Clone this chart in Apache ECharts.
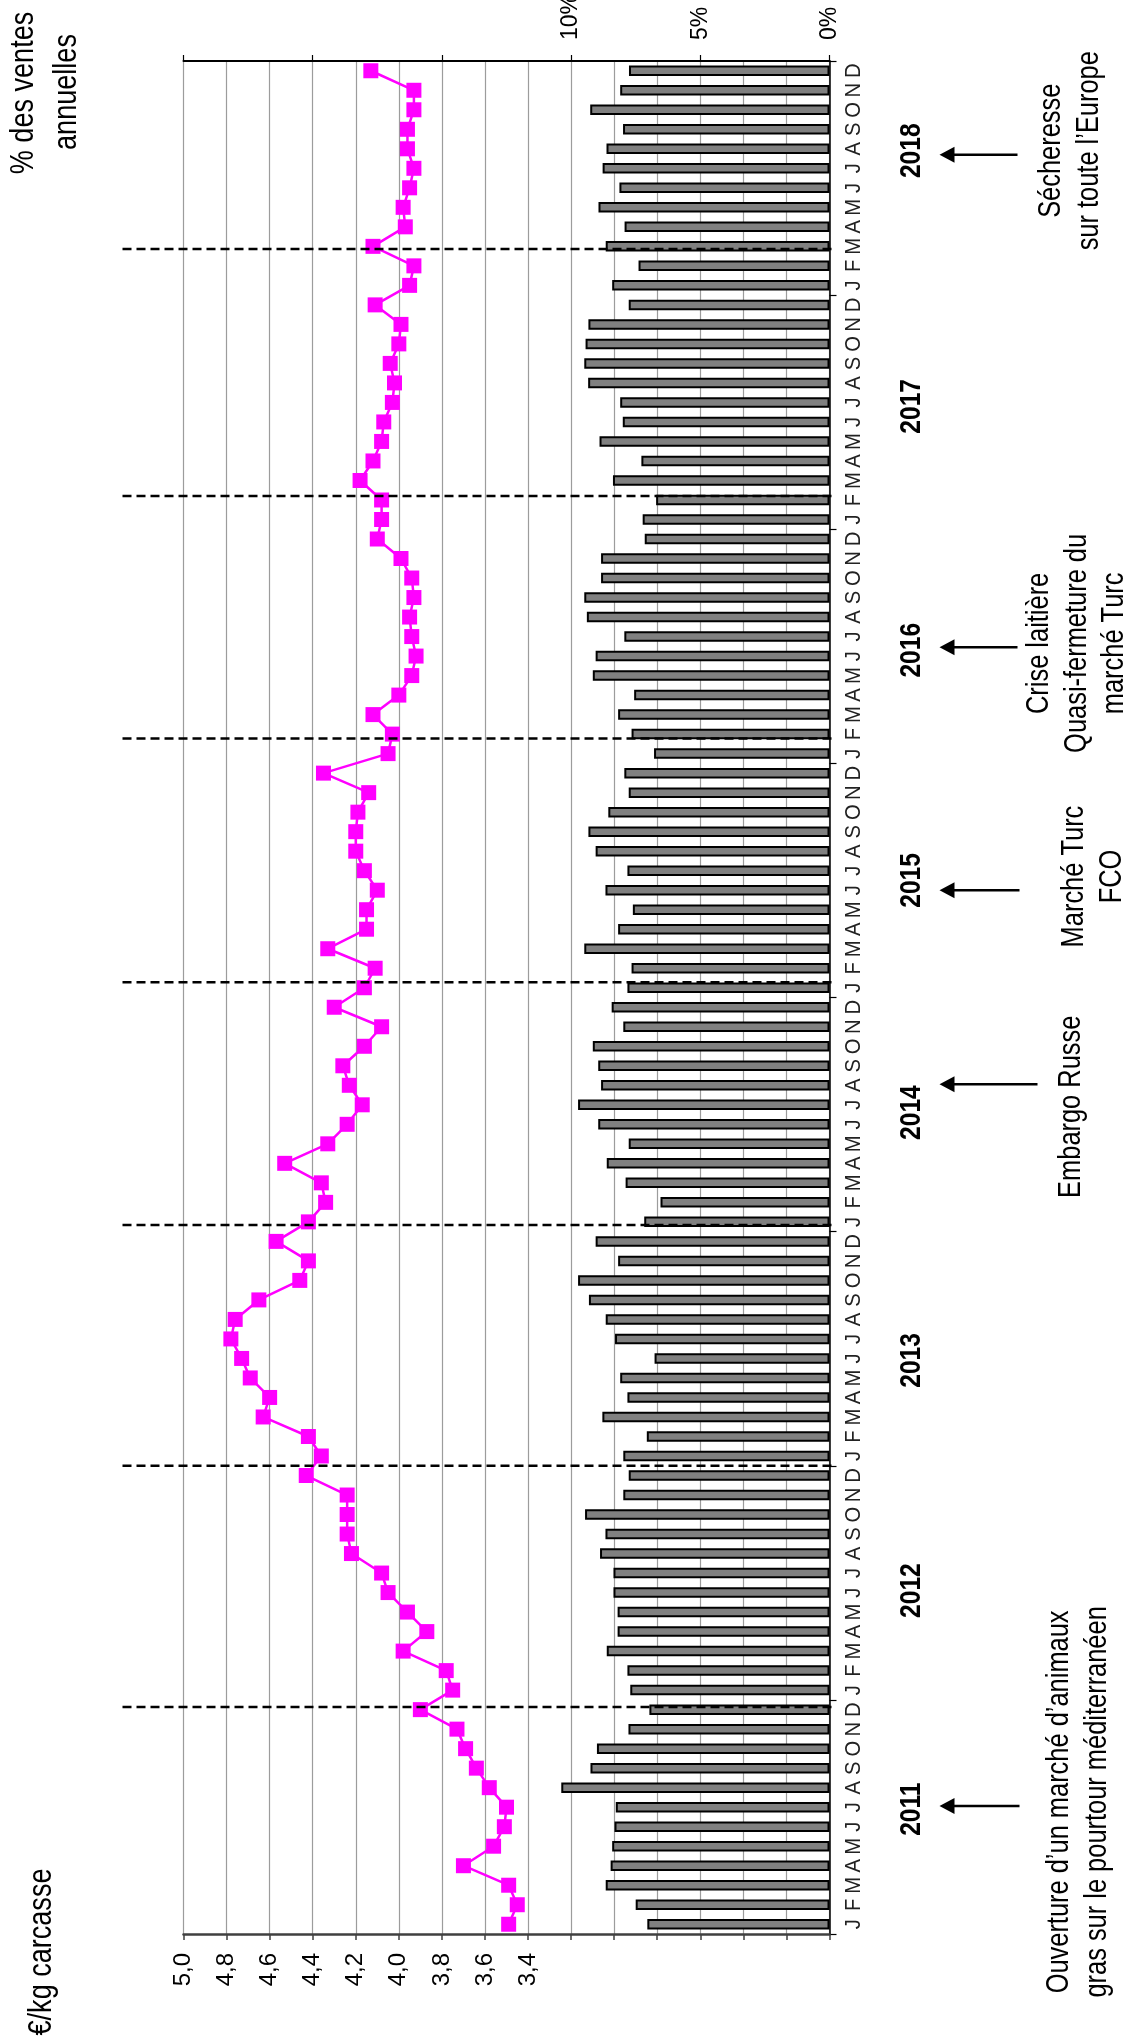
<!DOCTYPE html>
<html>
<head>
<meta charset="utf-8">
<script src="https://cdn.jsdelivr.net/npm/echarts@6/dist/echarts.min.js"></script>
<style>
html,body{margin:0;padding:0;background:#fff;}
#chart{width:1139px;height:2044px;}
</style>
</head>
<body>
<div id="chart"></div>
<script>
// ---------- DATA ----------
const monthLetters = ['J','F','M','A','M','J','J','A','S','O','N','D'];
const years = ['2011','2012','2013','2014','2015','2016','2017','2018'];

// % des ventes annuelles (bars)
const sales2011 = [7.05, 7.50, 8.66, 8.47, 8.41, 8.32, 8.27, 10.38, 9.25, 9.00, 7.78, 6.97];
const sales2012 = [7.71, 7.82, 8.62, 8.20, 8.20, 8.36, 8.36, 8.88, 8.67, 9.46, 7.98, 7.77];
const sales2013 = [7.98, 7.07, 8.79, 7.82, 8.10, 6.77, 8.30, 8.66, 9.31, 9.73, 8.18, 9.05];
const sales2014 = [7.17, 6.54, 7.89, 8.62, 7.77, 8.95, 9.73, 8.84, 8.95, 9.16, 7.98, 8.43];
const sales2015 = [7.82, 7.66, 9.49, 8.18, 7.61, 8.67, 7.82, 9.05, 9.33, 8.56, 7.77, 7.94];
const sales2016 = [6.79, 7.66, 8.18, 7.56, 9.16, 9.05, 7.94, 9.39, 9.49, 8.84, 8.84, 7.15];
const sales2017 = [7.23, 6.71, 8.38, 7.28, 8.90, 8.00, 8.10, 9.34, 9.49, 9.44, 9.33, 7.77];
const sales2018 = [8.41, 7.39, 8.66, 7.93, 8.94, 8.13, 8.78, 8.63, 7.99, 9.26, 8.10, 7.76];

// €/kg carcasse (line)
const price2011 = [3.49, 3.45, 3.49, 3.70, 3.56, 3.51, 3.50, 3.58, 3.64, 3.69, 3.73, 3.90];
const price2012 = [3.75, 3.78, 3.98, 3.87, 3.96, 4.05, 4.08, 4.22, 4.24, 4.24, 4.24, 4.43];
const price2013 = [4.36, 4.42, 4.63, 4.60, 4.69, 4.73, 4.78, 4.76, 4.65, 4.46, 4.42, 4.57];
const price2014 = [4.42, 4.34, 4.36, 4.53, 4.33, 4.24, 4.17, 4.23, 4.26, 4.16, 4.08, 4.30];
const price2015 = [4.16, 4.11, 4.33, 4.15, 4.15, 4.10, 4.16, 4.20, 4.20, 4.19, 4.14, 4.35];
const price2016 = [4.05, 4.03, 4.12, 4.00, 3.94, 3.92, 3.94, 3.95, 3.93, 3.94, 3.99, 4.10];
const price2017 = [4.08, 4.08, 4.18, 4.12, 4.08, 4.07, 4.03, 4.02, 4.04, 4.00, 3.99, 4.11];
const price2018 = [3.95, 3.93, 4.12, 3.97, 3.98, 3.95, 3.93, 3.96, 3.96, 3.93, 3.93, 4.13];

// axes
const priceMin = 2.0, priceMax = 5.0, priceStep = 0.2;
const priceTickLabels = [3.4, 3.6, 3.8, 4.0, 4.2, 4.4, 4.6, 4.8, 5.0];
const pctMin = 0, pctMax = 25, pctStep = 5;
const pctTickLabels = [0, 5, 10];

// dashed separators (position in months from Jan 2011)
const dashedPos = [11.63, 24.0, 36.34, 48.78, 61.28, 73.71, 86.36];
// year label position inside each year (months from the year's start)
const yearLabelOffset = [6.4, 5.6, 5.4, 6.1, 6.0, 5.8, 6.3, 7.4];

// annotations (position in months from Jan 2011)
const noteArrowPos = [6.56, 43.55, 53.5, 65.95, 91.2];
const noteArrowLen = [80, 98, 80, 78, 78];
const noteTextPos  = [6.77, 42.4, 54.2, 66.15, 91.4];
const noteFirstBaseline = [1070, 1082, 1085, 1050, 1062];
const noteLines = [
  ['Ouverture d\u2019un marché d\u2019animaux', 'gras sur le pourtour méditerranéen'],
  ['Embargo Russe'],
  ['Marché Turc', 'FCO'],
  ['Crise laitière', 'Quasi-fermeture du', 'marché Turc'],
  ['Sécheresse', 'sur toute l\u2019Europe']
];

// ---------- FONTS ----------
function fontAvailable(name) {
  const ctx = document.createElement('canvas').getContext('2d');
  const s = 'abcdefghijklmnopqrstuvwxyz0123456789WMQ';
  return ['monospace', 'serif'].some(fb => {
    ctx.font = '40px ' + fb; const a = ctx.measureText(s).width;
    ctx.font = "40px '" + name + "', " + fb; const b = ctx.measureText(s).width;
    return Math.abs(a - b) > 0.5;
  });
}
const narrow = ['Liberation Sans Narrow', 'Arial Narrow'].find(fontAvailable);
const NF = narrow ? "'" + narrow + "'" : "'Liberation Sans', Arial, sans-serif";
const SX = narrow ? 1 : 0.82;
const RF = "'Liberation Sans', Arial, sans-serif";

// ---------- BUILD ----------
const allSales = [].concat(sales2011, sales2012, sales2013, sales2014, sales2015, sales2016, sales2017, sales2018);
const allPrice = [].concat(price2011, price2012, price2013, price2014, price2015, price2016, price2017, price2018);
const categories = [];
years.forEach(y => monthLetters.forEach((m, i) => categories.push(y + '-' + (i + 1))));
const nMonths = categories.length;

const ROT = Math.PI / 2;
const chart = echarts.init(document.getElementById('chart'), null, {renderer: 'canvas'});

function txt(x, y, text, size, align, vAlign, weight, color, family, sx) {
  return {type: 'text', x: x, y: y, rotation: ROT, scaleX: sx == null ? SX : sx,
          style: {text: text, fill: color || '#000', fontSize: size, fontWeight: weight || 'normal', fontFamily: family || NF,
                  align: align, verticalAlign: vAlign}};
}
function overlay(name, xIdx, data, render) {
  return {name: name, type: 'custom', xAxisIndex: xIdx, yAxisIndex: 1, clip: false, silent: true, z: 10,
          data: data, encode: {x: 0, y: 1}, renderItem: render};
}

const option = {
  animation: false,
  backgroundColor: '#ffffff',
  grid: {left: 183.5, right: 309.5, top: 61, bottom: 110, containLabel: false},
  xAxis: [
    { // price axis (bottom of picture)
      type: 'value', position: 'bottom', min: priceMin, max: priceMax, interval: priceStep, inverse: true,
      axisLine: {show: true, onZero: false, lineStyle: {color: '#404040', width: 2.5}},
      axisTick: {show: true, length: 6, lineStyle: {color: '#404040', width: 1.5}},
      splitLine: {show: true, lineStyle: {color: '#9c9c9c', width: 1.2}},
      axisLabel: {show: false}
    },
    { // percent axis (top of picture)
      type: 'value', position: 'top', min: pctMin, max: pctMax, interval: pctStep, inverse: true,
      axisLine: {show: true, onZero: false, lineStyle: {color: '#000', width: 2}},
      axisTick: {show: true, length: 6, lineStyle: {color: '#000', width: 1.2}},
      splitLine: {show: false},
      axisLabel: {show: false}
    }
  ],
  yAxis: [
    {
      type: 'category', data: categories, position: 'right', boundaryGap: true,
      axisLine: {show: true, onZero: false, lineStyle: {color: '#000', width: 1.5}},
      axisTick: {show: true, length: 7, interval: (i) => i % 12 === 0, lineStyle: {color: '#000', width: 1.2}},
      splitLine: {show: false},
      axisLabel: {show: false, interval: 0}
    },
    {type: 'value', min: 0, max: nMonths, show: false}
  ],
  series: [
    {
      name: '% des ventes annuelles', type: 'bar', xAxisIndex: 1, yAxisIndex: 0,
      data: allSales, barWidth: 10.5, z: 2,
      itemStyle: {color: '#808080', borderColor: '#000', borderWidth: 2}
    },
    {
      name: '€/kg carcasse', type: 'line', xAxisIndex: 0, yAxisIndex: 0,
      data: allPrice, z: 3,
      symbol: 'rect', symbolSize: 15, showSymbol: true, showAllSymbol: true,
      itemStyle: {color: '#ff00ff'},
      lineStyle: {color: '#ff00ff', width: 2.5}
    },
    // month letters along the time axis
    overlay('months', 0, categories.map((c, i) => [priceMin, i + 0.5]), (params, api) => {
      const pt = api.coord([priceMin, api.value(1)]);
      return txt(pt[0] + 24, pt[1], monthLetters[params.dataIndex % 12], 22, 'center', 'middle', 'normal', '#222', RF, 0.92);
    }),
    // price tick labels
    overlay('priceLabels', 0, priceTickLabels.map(v => [v, 0]), (params, api) => {
      const pt = api.coord([api.value(0), 0]);
      const v = priceTickLabels[params.dataIndex];
      return txt(pt[0], pt[1] + 19, v.toFixed(1).replace('.', ','), 24, 'right', 'middle', 'normal', '#000', RF, 1);
    }),
    // percent tick labels
    {
      name: 'pctLabels', type: 'custom', xAxisIndex: 1, yAxisIndex: 1, clip: false, silent: true, z: 10,
      data: pctTickLabels.map(v => [v, nMonths]), encode: {x: 0, y: 1},
      renderItem: (params, api) => {
        const pt = api.coord([api.value(0), nMonths]);
        return txt(pt[0], pt[1] - 21, pctTickLabels[params.dataIndex] + '%', 23, 'left', 'middle', 'normal', '#000', RF, 1);
      }
    },
    // dashed separators
    overlay('separators', 0, dashedPos.map(p => [priceMin, p]), (params, api) => {
      const pt = api.coord([priceMin, api.value(1)]);
      const left = api.coord([priceMax, api.value(1)])[0];
      return {type: 'line', shape: {x1: left - 61, y1: pt[1], x2: pt[0] + 2, y2: pt[1]},
              style: {stroke: '#000', lineWidth: 2.5, lineDash: [9, 5], fill: null}};
    }),
    // year labels
    overlay('years', 0, years.map((y, i) => [priceMin, i * 12 + yearLabelOffset[i]]), (params, api) => {
      const pt = api.coord([priceMin, api.value(1)]);
      return txt(pt[0] + 82, pt[1], years[params.dataIndex], 30, 'center', 'middle', 'bold');
    }),
    // arrows
    overlay('arrows', 0, noteArrowPos.map(p => [priceMin, p]), (params, api) => {
      const pt = api.coord([priceMin, api.value(1)]);
      const tip = pt[0] + 110, y = pt[1], len = noteArrowLen[params.dataIndex];
      return {type: 'group', children: [
        {type: 'line', shape: {x1: tip + 10, y1: y, x2: tip + len, y2: y}, style: {stroke: '#000', lineWidth: 2.5}},
        {type: 'polygon', shape: {points: [[tip, y], [tip + 15, y - 8], [tip + 15, y + 8]]}, style: {fill: '#000'}}
      ]};
    }),
    // annotation texts
    overlay('notes', 0, noteTextPos.map(p => [priceMin, p]), (params, api) => {
      const i = params.dataIndex;
      const y = api.coord([priceMin, api.value(1)])[1];
      return {type: 'group', children: noteLines[i].map((t, k) =>
        txt(noteFirstBaseline[i] + k * 37.5 - 10.5, y, t, 31, 'center', 'middle'))};
    })
  ],
  graphic: [
    Object.assign(txt(42, 1952, '€/kg carcasse', 33, 'center', 'middle'), {silent: true}),
    Object.assign(txt(24, 93, '% des ventes', 33, 'center', 'middle'), {silent: true}),
    Object.assign(txt(67, 92, 'annuelles', 33, 'center', 'middle'), {silent: true})
  ]
};
chart.setOption(option);
</script>
</body>
</html>
